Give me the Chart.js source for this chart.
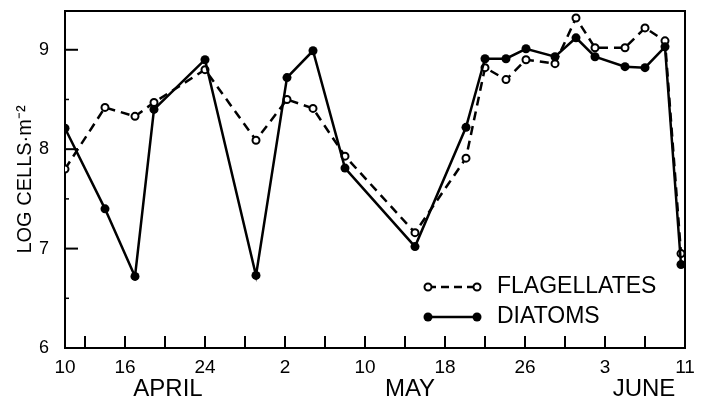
<!DOCTYPE html>
<html>
<head>
<meta charset="utf-8">
<script src="https://cdn.jsdelivr.net/npm/chart.js@4"></script>
<style>
  html, body { margin: 0; padding: 0; background: #fff; }
  #wrap { width: 703px; height: 401px; }
</style>
</head>
<body>
<div id="wrap"><canvas id="plankton" width="703" height="401"></canvas></div>
<script>
// days since April 10
var sampleDays = [0, 4, 7, 8.9, 14, 19.1, 22.2, 24.8, 28, 35, 40.1, 42, 44.1, 46.1, 49, 51.1, 53, 56, 58, 60, 61.6];
var diatoms = [8.21, 7.4, 6.72, 8.4, 8.9, 6.73, 8.72, 8.99, 7.81, 7.02, 8.22, 8.91, 8.91, 9.01, 8.93, 9.12, 8.93, 8.83, 8.82, 9.03, 6.84];
var flagellates = [7.8, 8.42, 8.33, 8.47, 8.8, 8.09, 8.5, 8.41, 7.93, 7.16, 7.91, 8.82, 8.7, 8.9, 8.86, 9.32, 9.02, 9.02, 9.22, 9.09, 6.95];

var xTickDays = [0, 6, 14, 22, 30, 38, 46, 54, 62];
var xTickLabels = ['10', '16', '24', '2', '10', '18', '26', '3', '11'];
var xMinorDays = [2, 6, 10, 14, 18, 22, 26, 30, 34, 38, 42, 46, 50, 54, 58];
var months = ['APRIL', 'MAY', 'JUNE'];
var monthDays = [10.3, 34.5, 57.9];
var yTicks = [6, 7, 8, 9];
var yMinor = [6.5, 7.5, 8.5];

var font = "'Liberation Sans', Arial, sans-serif";

function toPoints(ys) {
  return sampleDays.map(function (d, i) { return { x: d, y: ys[i] }; });
}

// inward ticks, frame, month names and the legend
var decorations = {
  id: 'decorations',
  afterDraw: function (chart) {
    var ctx = chart.ctx;
    var x = chart.scales.x, y = chart.scales.y;
    var a = chart.chartArea;
    ctx.save();
    ctx.strokeStyle = '#000';
    ctx.lineWidth = 2;
    ctx.beginPath();
    ctx.moveTo(a.left, a.top);
    ctx.lineTo(a.right, a.top);
    ctx.lineTo(a.right, a.bottom);
    ctx.stroke();

    ctx.lineWidth = 2;
    xMinorDays.forEach(function (d) {
      var px = x.getPixelForValue(d);
      ctx.beginPath();
      ctx.moveTo(px, a.bottom);
      ctx.lineTo(px, a.bottom - 12);
      ctx.stroke();
    });
    yTicks.forEach(function (v) {
      var py = y.getPixelForValue(v);
      ctx.beginPath();
      ctx.moveTo(a.left, py);
      ctx.lineTo(a.left + 13, py);
      ctx.stroke();
    });
    ctx.lineWidth = 1.5;
    yMinor.forEach(function (v) {
      var py = y.getPixelForValue(v);
      ctx.beginPath();
      ctx.moveTo(a.left, py);
      ctx.lineTo(a.left + 4, py);
      ctx.stroke();
    });

    ctx.fillStyle = '#000';
    ctx.font = '24px ' + font;
    ctx.textAlign = 'center';
    ctx.textBaseline = 'middle';
    months.forEach(function (m, i) {
      ctx.fillText(m, x.getPixelForValue(monthDays[i]), 389);
    });

    // legend
    var lx0 = 428, lx1 = 477;
    ctx.lineWidth = 2.5;
    ctx.setLineDash([8, 5]);
    ctx.beginPath();
    ctx.moveTo(lx0, 287);
    ctx.lineTo(lx1, 287);
    ctx.stroke();
    ctx.setLineDash([]);
    [lx0, lx1].forEach(function (px) {
      ctx.beginPath();
      ctx.arc(px, 287, 3.5, 0, Math.PI * 2);
      ctx.fillStyle = '#fff';
      ctx.fill();
      ctx.lineWidth = 2;
      ctx.stroke();
    });
    ctx.lineWidth = 2.5;
    ctx.beginPath();
    ctx.moveTo(lx0, 317);
    ctx.lineTo(lx1, 317);
    ctx.stroke();
    ctx.fillStyle = '#000';
    [lx0, lx1].forEach(function (px) {
      ctx.beginPath();
      ctx.arc(px, 317, 4.5, 0, Math.PI * 2);
      ctx.fill();
    });
    ctx.font = '23px ' + font;
    ctx.textAlign = 'left';
    ctx.fillText('FLAGELLATES', 497, 287);
    ctx.fillText('DIATOMS', 497, 317);
    ctx.restore();
  }
};

new Chart(document.getElementById('plankton'), {
  type: 'line',
  data: {
    datasets: [{
      label: 'DIATOMS',
      data: toPoints(diatoms),
      borderColor: '#000',
      borderWidth: 2.5,
      pointRadius: 4.5,
      pointBackgroundColor: '#000',
      pointBorderColor: '#000',
      pointBorderWidth: 0,
      tension: 0
    }, {
      label: 'FLAGELLATES',
      data: toPoints(flagellates),
      borderColor: '#000',
      borderWidth: 2.5,
      borderDash: [9, 6],
      pointRadius: 3.5,
      pointBackgroundColor: '#fff',
      pointBorderColor: '#000',
      pointBorderWidth: 2,
      tension: 0
    }]
  },
  options: {
    responsive: false,
    animation: false,
    events: [],
    layout: { padding: { top: 11, right: 18, left: 0, bottom: 0 } },
    plugins: {
      legend: { display: false },
      tooltip: { enabled: false }
    },
    scales: {
      x: {
        type: 'linear',
        min: 0,
        max: 62,
        afterBuildTicks: function (scale) {
          scale.ticks = xTickDays.map(function (v) { return { value: v }; });
        },
        afterFit: function (scale) { scale.height = 53; },
        grid: { display: false },
        border: { color: '#000', width: 2 },
        ticks: {
          autoSkip: false,
          maxRotation: 0,
          padding: 0,
          color: '#000',
          font: { family: font, size: 19 },
          callback: function (v) {
            var i = xTickDays.indexOf(v);
            return i >= 0 ? xTickLabels[i] : '';
          }
        }
      },
      y: {
        min: 6,
        max: 9.39,
        afterBuildTicks: function (scale) {
          scale.ticks = yTicks.map(function (v) { return { value: v }; });
        },
        afterFit: function (scale) {
          scale.width = 65;
          scale.paddingTop = 0;
          scale.paddingBottom = 0;
        },
        grid: { display: false },
        border: { color: '#000', width: 2 },
        ticks: {
          padding: 8,
          color: '#000',
          font: { family: font, size: 18 }
        },
        title: {
          display: true,
          text: 'LOG CELLS·m⁻²',
          color: '#000',
          font: { family: font, size: 20 },
          padding: { top: 13, bottom: 0 }
        }
      }
    }
  },
  plugins: [decorations]
});
</script>
</body>
</html>
